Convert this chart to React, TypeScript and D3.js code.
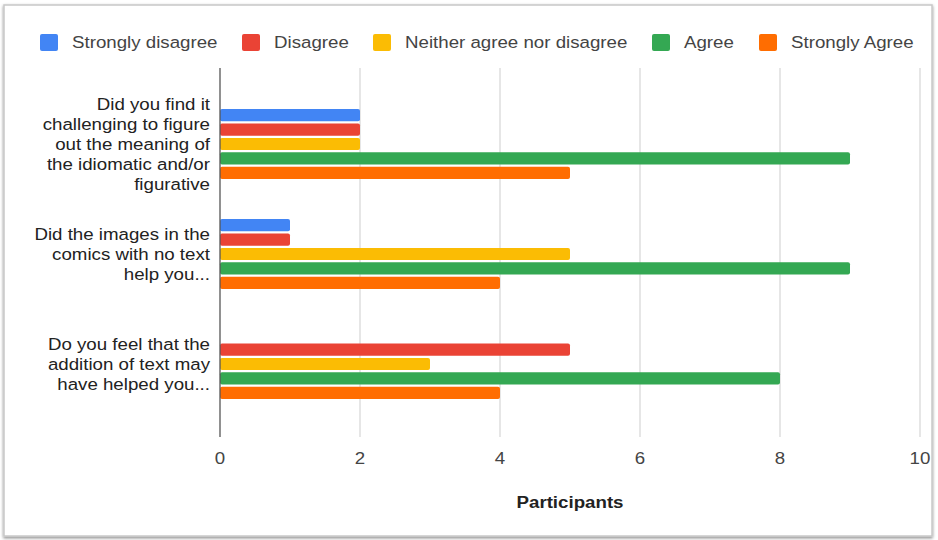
import React from "react";
import * as d3 from "d3";

const categories = ["q1", "q2", "q3"];
const categoryLabels: string[][] = [
  ["Did you find it", "challenging to figure", "out the meaning of", "the idiomatic and/or", "figurative"],
  ["Did the images in the", "comics with no text", "help you..."],
  ["Do you feel that the", "addition of text may", "have helped you..."],
];
const seriesNames = ["Strongly disagree", "Disagree", "Neither agree nor disagree", "Agree", "Strongly Agree"];
const seriesColors = ["#4285F4", "#EA4335", "#FBBC04", "#34A853", "#FF6D01"];
const stronglyDisagree = [2, 1, 0];
const disagree = [2, 1, 5];
const neither = [2, 5, 3];
const agree = [9, 9, 8];
const stronglyAgree = [5, 4, 4];
const seriesValues = [stronglyDisagree, disagree, neither, agree, stronglyAgree];
const xTicks = [0, 2, 4, 6, 8, 10];
const xTitle = "Participants";

const W = 938;
const H = 540;
const FONT = "'Liberation Sans', Arial, sans-serif";
const FS = 17;
const SX = 1.1;

function T(props: {
  x: number;
  y: number;
  anchor?: "start" | "middle" | "end";
  fill?: string;
  bold?: boolean;
  children: React.ReactNode;
}) {
  return (
    <text
      transform={`translate(${props.x},${props.y}) scale(${SX},1)`}
      textAnchor={props.anchor || "start"}
      dominantBaseline="central"
      fontSize={FS}
      fontWeight={props.bold ? "bold" : "normal"}
      fill={props.fill || "#222"}
    >
      {props.children}
    </text>
  );
}

export default function App() {
  const x = d3.scaleLinear().domain([0, 10]).range([220, 920]);
  const y = d3.scaleBand<string>().domain(categories).range([89, 419]);
  const inner = d3
    .scaleBand<string>()
    .domain(seriesNames)
    .range([0, 72])
    .paddingInner(0.15)
    .paddingOuter(0.075);
  const plotTop = 68;
  const plotBottom = 437;
  const legendX = [40, 242, 373, 652, 759];

  return (
    <svg
      width={W}
      height={H}
      style={{ position: "absolute", left: 0, top: 0, background: "#fff" }}
      fontFamily={FONT}
    >
      <defs>
        <filter id="sh" x="-5%" y="-5%" width="110%" height="110%">
          <feDropShadow dx="0" dy="1.5" stdDeviation="1.5" floodColor="#000" floodOpacity="0.45" />
        </filter>
      </defs>
      <rect x={4} y={5} width={928} height={531} fill="#fff" stroke="#c8c8c8" strokeWidth={1.5} filter="url(#sh)" />

      {/* legend */}
      {seriesNames.map((s, i) => (
        <g key={s}>
          <rect x={legendX[i]} y={34} width={18} height={17} rx={2} fill={seriesColors[i]} />
          <T x={legendX[i] + 32} y={42.5} fill="#444">
            {s}
          </T>
        </g>
      ))}

      {/* gridlines */}
      {xTicks.slice(1).map((t) => (
        <line key={t} x1={x(t)} x2={x(t)} y1={plotTop} y2={plotBottom} stroke="#d6d6d6" strokeWidth={1.2} />
      ))}

      {/* bars */}
      {categories.map((c, ci) => {
        const center = (y(c) as number) + y.bandwidth() / 2;
        const top = center - 36;
        return (
          <g key={c}>
            {seriesNames.map((s, si) => {
              const v = seriesValues[si][ci];
              if (!v) return null;
              return (
                <rect
                  key={s}
                  x={x(0)}
                  y={top + (inner(s) as number)}
                  width={x(v) - x(0)}
                  height={inner.bandwidth()}
                  rx={2}
                  fill={seriesColors[si]}
                />
              );
            })}
          </g>
        );
      })}

      {/* zero axis */}
      <line x1={x(0)} x2={x(0)} y1={plotTop} y2={plotBottom} stroke="#555" strokeWidth={1.3} />

      {/* category labels */}
      {categories.map((c, ci) => {
        const center = (y(c) as number) + y.bandwidth() / 2;
        const lines = categoryLabels[ci];
        const lh = 20;
        const start = center - ((lines.length - 1) * lh) / 2;
        return (
          <g key={c}>
            {lines.map((l, li) => (
              <T key={li} x={210} y={start + li * lh} anchor="end">
                {l}
              </T>
            ))}
          </g>
        );
      })}

      {/* x tick labels */}
      {xTicks.map((t) => (
        <T key={t} x={x(t)} y={458} anchor="middle" fill="#444">
          {t}
        </T>
      ))}

      <T x={570} y={502} anchor="middle" bold>
        {xTitle}
      </T>
    </svg>
  );
}
